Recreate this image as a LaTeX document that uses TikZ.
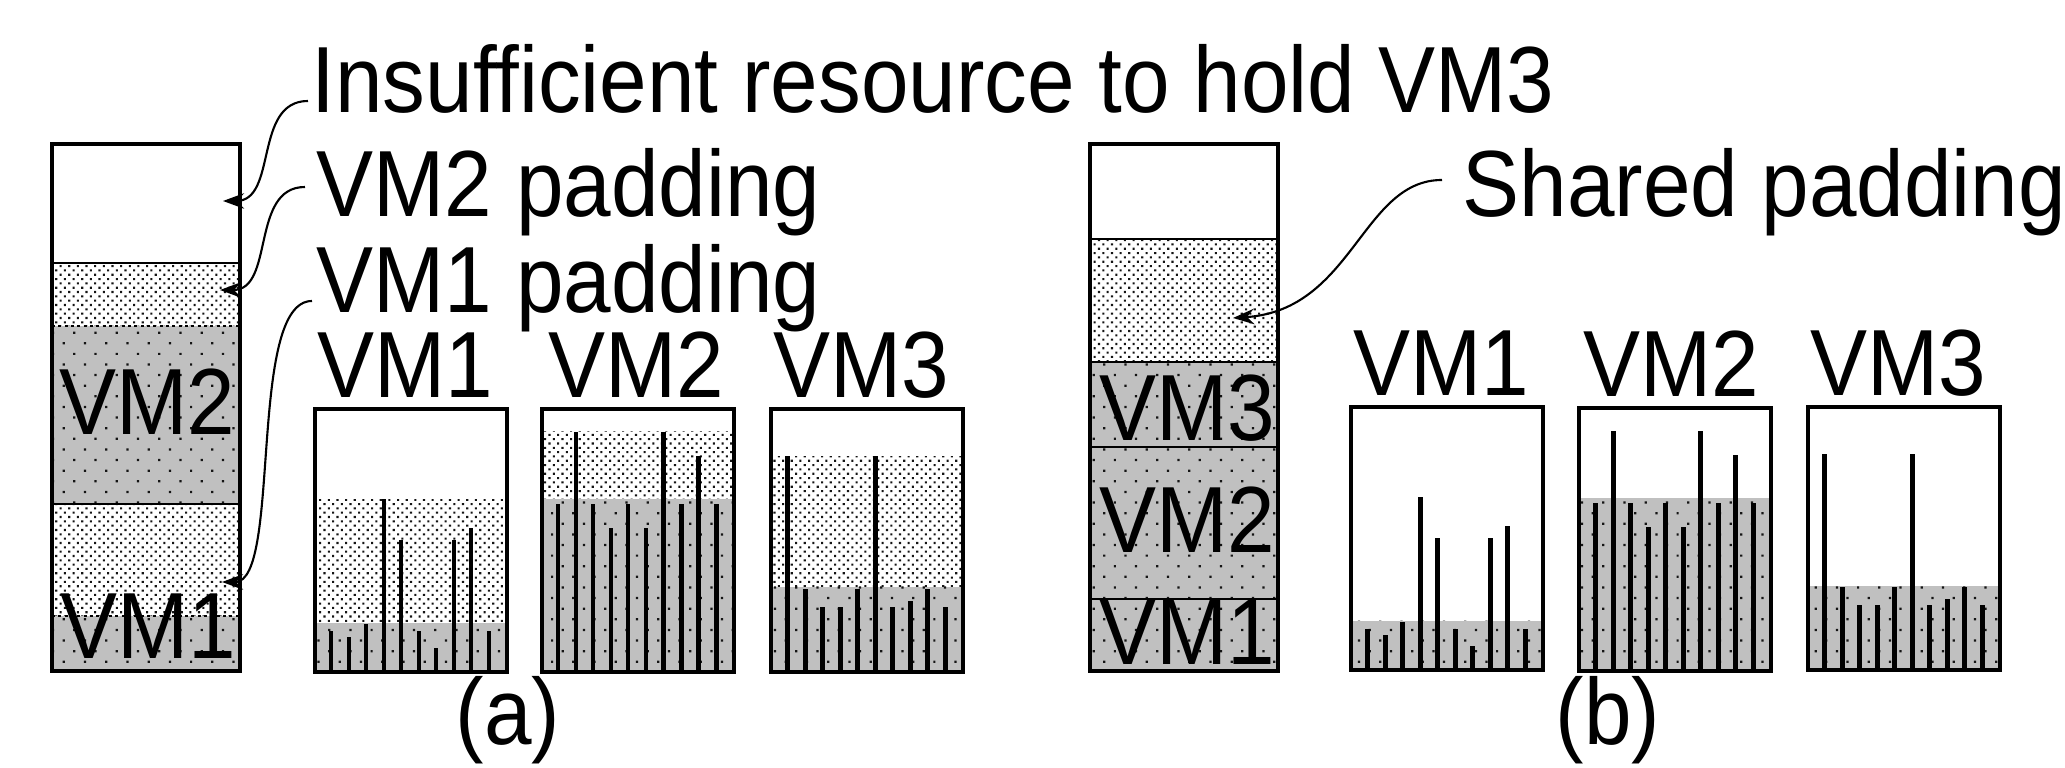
\documentclass[tikz,border=0pt]{standalone}
\usepackage{fontspec}
\setmainfont{Liberation Sans}
\usepackage{xcolor}
\usepackage{graphicx}
\usetikzlibrary{arrows.meta,patterns.meta}
\definecolor{figline}{RGB}{0,0,0}
\definecolor{figshade}{RGB}{192,192,192}
\definecolor{figdot}{RGB}{20,20,20}
\newcommand{\tl}[1]{\scalebox{1}[1.1]{#1}}
\tikzset{
  hostbox/.style ={draw=figline, line width=1.15pt},
  sep/.style     ={draw=figline, line width=0.5pt},
  sepd/.style    ={draw=figline, line width=0.7pt, dash pattern=on 0.9pt off 0.9pt},
  pad/.style     ={pattern={Dots[distance=1.74pt,angle=45,radius=0.42pt]}, pattern color=figdot},
  busy/.style    ={fill=figshade, postaction={pattern={Dots[distance=4.27pt,angle=45,radius=0.45pt]}, pattern color=figdot}},
  bar/.style     ={draw=figline, line width=1.42pt, line cap=butt},
  lab/.style     ={font=\fontsize{24.3}{28}\selectfont, inner sep=0pt},
  ptr/.style     ={draw=figline, line width=0.6pt, -{Stealth[length=6pt,width=4.4pt,inset=2pt]}},
}

\begin{document}
\begin{tikzpicture}[x=0.01cm,y=-0.01cm]
  \useasboundingbox (0,0) rectangle (2065,768);
  % (a) host with per-VM padding
  \fill[pad] (52,263) rectangle (240,326);
  \fill[busy] (52,326) rectangle (240,504);
  \fill[pad] (52,504) rectangle (240,616);
  \fill[busy] (52,616) rectangle (240,671);
  \draw[sep] (52,263) -- (240,263);
  \draw[sepd] (52,326) -- (240,326);
  \draw[sep] (52,504) -- (240,504);
  \draw[sepd] (52,616) -- (240,616);
  \draw[hostbox] (52,144) rectangle (240,671);
  \node[lab,anchor=base] (hostAvm2) at (147,435) {\tl{VM2}};
  \node[lab,anchor=base] (hostAvm1) at (148,659) {\tl{VM1}};
  \node[lab,anchor=base west] (insuf) at (311,113) {\tl{Insufficient resource to hold VM3}};
  \node[lab,anchor=base west] (padA2) at (316,217) {\tl{VM2 padding}};
  \node[lab,anchor=base west] (padA1) at (316,313) {\tl{VM1 padding}};
  \coordinate (tipFree) at (223,201);
  \coordinate (tipPad2) at (220,290);
  \coordinate (tipPad1) at (222,582);
  \draw[ptr] ([shift={(-3,-12)}]insuf.base west) .. controls +(-55,0) and +(55,0) .. (tipFree);
  \draw[ptr] ([shift={(-11,-30)}]padA2.base west) .. controls +(-55,0) and +(55,0) .. (tipPad2);
  \draw[ptr] ([shift={(-4,-12)}]padA1.base west) .. controls +(-65,0) and +(60,0) .. (tipPad1);
  % (a) VM1 demand
  \begin{scope}[shift={(315,409)}]
  \fill[pad] (0,91) rectangle (192,214);
  \fill[busy] (0,214) rectangle (192,263);
  \draw[bar] (16,263) -- (16,222);
  \draw[bar] (34,263) -- (34,228);
  \draw[bar] (51,263) -- (51,215);
  \draw[bar] (69,263) -- (69,90);
  \draw[bar] (86,263) -- (86,131);
  \draw[bar] (104,263) -- (104,222);
  \draw[bar] (121,263) -- (121,239);
  \draw[bar] (139,263) -- (139,131);
  \draw[bar] (156,263) -- (156,119);
  \draw[bar] (174,263) -- (174,222);
  \draw[hostbox] (0,0) rectangle (192,263);
  \node[lab,anchor=base] (vmA1) at (90,-11) {\tl{VM1}};
  \end{scope}
  % (a) VM2 demand
  \begin{scope}[shift={(542,409)}]
  \fill[pad] (0,23) rectangle (192,90);
  \fill[busy] (0,90) rectangle (192,263);
  \draw[bar] (16,263) -- (16,95);
  \draw[bar] (34,263) -- (34,23);
  \draw[bar] (51,263) -- (51,95);
  \draw[bar] (69,263) -- (69,119);
  \draw[bar] (86,263) -- (86,95);
  \draw[bar] (104,263) -- (104,119);
  \draw[bar] (121,263) -- (121,23);
  \draw[bar] (139,263) -- (139,95);
  \draw[bar] (156,263) -- (156,47);
  \draw[bar] (174,263) -- (174,95);
  \draw[hostbox] (0,0) rectangle (192,263);
  \node[lab,anchor=base] (vmA2) at (94,-11) {\tl{VM2}};
  \end{scope}
  % (a) VM3 demand
  \begin{scope}[shift={(771,409)}]
  \fill[pad] (0,48) rectangle (192,178);
  \fill[busy] (0,178) rectangle (192,263);
  \draw[bar] (16,263) -- (16,47);
  \draw[bar] (34,263) -- (34,180);
  \draw[bar] (51,263) -- (51,198);
  \draw[bar] (69,263) -- (69,198);
  \draw[bar] (86,263) -- (86,180);
  \draw[bar] (104,263) -- (104,47);
  \draw[bar] (121,263) -- (121,198);
  \draw[bar] (139,263) -- (139,192);
  \draw[bar] (156,263) -- (156,180);
  \draw[bar] (174,263) -- (174,198);
  \draw[hostbox] (0,0) rectangle (192,263);
  \node[lab,anchor=base] (vmA3) at (90,-11) {\tl{VM3}};
  \end{scope}
  \node[lab,anchor=base] (capA) at (508,745) {\tl{(a)}};
  % (b) host with shared padding
  \fill[pad] (1090,239) rectangle (1278,362);
  \fill[busy] (1090,362) rectangle (1278,671);
  \draw[sep] (1090,239) -- (1278,239);
  \draw[sep] (1090,362) -- (1278,362);
  \draw[sep] (1090,447) -- (1278,447);
  \draw[sep] (1090,599) -- (1278,599);
  \draw[hostbox] (1090,144) rectangle (1278,671);
  \node[lab,anchor=base] (hostBvm3) at (1187,441) {\tl{VM3}};
  \node[lab,anchor=base] (hostBvm2) at (1187,553) {\tl{VM2}};
  \node[lab,anchor=base] (hostBvm1) at (1187,665) {\tl{VM1}};
  \node[lab,anchor=base west] (shared) at (1462,217) {\tl{Shared padding}};
  \coordinate (tipShared) at (1233,318);
  \draw[ptr] ([shift={(-20,-37)}]shared.base west) .. controls +(-80,0) and +(120,-8) .. (tipShared);
  % (b) VM1 demand
  \begin{scope}[shift={(1351,407)}]
  \fill[busy] (0,214) rectangle (192,263);
  \draw[bar] (16,263) -- (16,222);
  \draw[bar] (34,263) -- (34,228);
  \draw[bar] (51,263) -- (51,215);
  \draw[bar] (69,263) -- (69,90);
  \draw[bar] (86,263) -- (86,131);
  \draw[bar] (104,263) -- (104,222);
  \draw[bar] (121,263) -- (121,239);
  \draw[bar] (139,263) -- (139,131);
  \draw[bar] (156,263) -- (156,119);
  \draw[bar] (174,263) -- (174,222);
  \draw[hostbox] (0,0) rectangle (192,263);
  \node[lab,anchor=base] (vmB1) at (90,-11) {\tl{VM1}};
  \end{scope}
  % (b) VM2 demand
  \begin{scope}[shift={(1579,408)}]
  \fill[busy] (0,90) rectangle (192,263);
  \draw[bar] (16,263) -- (16,95);
  \draw[bar] (34,263) -- (34,23);
  \draw[bar] (51,263) -- (51,95);
  \draw[bar] (69,263) -- (69,119);
  \draw[bar] (86,263) -- (86,95);
  \draw[bar] (104,263) -- (104,119);
  \draw[bar] (121,263) -- (121,23);
  \draw[bar] (139,263) -- (139,95);
  \draw[bar] (156,263) -- (156,47);
  \draw[bar] (174,263) -- (174,95);
  \draw[hostbox] (0,0) rectangle (192,263);
  \node[lab,anchor=base] (vmB2) at (92,-11) {\tl{VM2}};
  \end{scope}
  % (b) VM3 demand
  \begin{scope}[shift={(1808,407)}]
  \fill[busy] (0,179) rectangle (192,263);
  \draw[bar] (16,263) -- (16,47);
  \draw[bar] (34,263) -- (34,180);
  \draw[bar] (51,263) -- (51,198);
  \draw[bar] (69,263) -- (69,198);
  \draw[bar] (86,263) -- (86,180);
  \draw[bar] (104,263) -- (104,47);
  \draw[bar] (121,263) -- (121,198);
  \draw[bar] (139,263) -- (139,192);
  \draw[bar] (156,263) -- (156,180);
  \draw[bar] (174,263) -- (174,198);
  \draw[hostbox] (0,0) rectangle (192,263);
  \node[lab,anchor=base] (vmB3) at (90,-11) {\tl{VM3}};
  \end{scope}
  \node[lab,anchor=base] (capB) at (1608,745) {\tl{(b)}};
\end{tikzpicture}
\end{document}
